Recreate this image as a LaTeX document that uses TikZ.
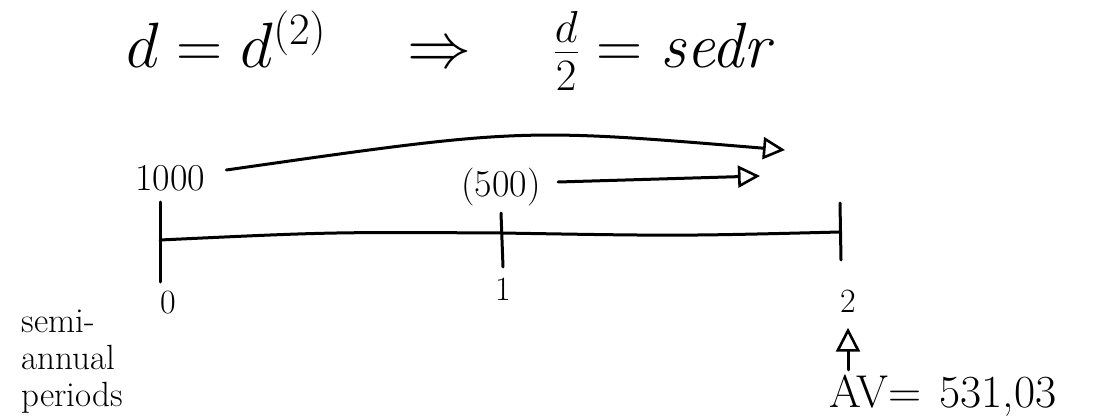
\RequirePackage{fix-cm}
\documentclass[tikz,border=0pt]{standalone}
\usepackage{amsmath}
\usetikzlibrary{arrows.meta}
\begin{document}
\begin{tikzpicture}[x=1pt,y=-1pt, line width=3pt, line cap=round,
  lbl/.style={inner sep=0pt, font=\fontsize{38}{40}\selectfont},
  tick/.style={line width=3pt},
  arr/.style={-{Triangle[open,length=22pt,width=22pt,line width=2.6pt]}}]
\useasboundingbox (0,0) rectangle (1111,417);
% title
\node[inner sep=0pt, anchor=base west, font=\fontsize{64}{70}\selectfont] (title) at (125,68)
  {$d=d^{(2)}\quad\Rightarrow\quad\frac{d}{2}=\mathit{sedr}$};
% timeline points
\coordinate (Ltop) at (160,202); \coordinate (Lbot) at (160,282);
\coordinate (Mtop) at (501,213); \coordinate (Mbot) at (503,267);
\coordinate (Rtop) at (840,203); \coordinate (Rbot) at (841,260);
\coordinate (L) at (160,240); \coordinate (M) at (501,233); \coordinate (R) at (840,232);
\draw[tick] (Ltop) -- (Lbot);
\draw[tick] (Mtop) -- (Mbot);
\draw[tick] (Rtop) -- (Rbot);
\draw (L) .. controls (330,232) .. (M) .. controls (680,236) .. (R);
% labels
\node[lbl] (n1000) at (170,178) {1000};
\node[lbl] (n500) at (501,187) {(500)};
\node[lbl, font=\fontsize{34}{36}\selectfont] (t0) at (168,303) {0};
\node[lbl, font=\fontsize{34}{36}\selectfont] (t1) at (503,289) {1};
\node[lbl, font=\fontsize{34}{36}\selectfont] (t2) at (848,301) {2};
\node[lbl, anchor=west, font=\fontsize{46}{50}\selectfont] (av) at (828,396) {AV=\kern 18pt 531,03};
\node[lbl, anchor=north west, align=left, font=\fontsize{35}{37}\selectfont] (sa) at (20,308) {semi-\\annual\\periods};
% arrows
\coordinate (tip1) at (785,150);
\coordinate (tip2) at (760,176);
\draw[arr] ([xshift=20pt,yshift=8pt]n1000.east) .. controls (520,128) .. (tip1);
\draw[arr] ([xshift=16pt,yshift=5pt]n500.east) -- (tip2);
\draw[-{Triangle[open,length=24pt,width=24pt,line width=2.6pt]}, shorten >=14pt, shorten <=4pt] (t2 |- av.north) -- (t2.south);
\end{tikzpicture}
\end{document}
